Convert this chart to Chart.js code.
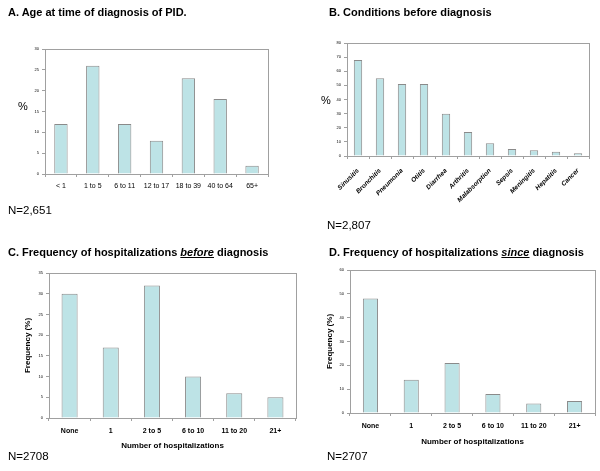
<!DOCTYPE html>
<html>
<head>
<meta charset="utf-8">
<script src="https://cdn.jsdelivr.net/npm/chart.js@4"></script>
<style>
  body { margin: 0; background: #fff; font-family: "Liberation Sans", Arial, sans-serif; }
  #page { position: relative; width: 600px; height: 471px; overflow: hidden; }
  canvas { position: absolute; }
  .txt { position: absolute; white-space: nowrap; color: #000; }
  .ttl { font-weight: bold; font-size: 11px; }
  .n { font-size: 11.5px; }
  .pct { font-size: 11px; }
</style>
</head>
<body>
<div id="page">
  <canvas id="chartA" width="300" height="235" style="left:0;top:0"></canvas>
  <canvas id="chartB" width="300" height="235" style="left:300px;top:0"></canvas>
  <canvas id="chartC" width="300" height="236" style="left:0;top:235px"></canvas>
  <canvas id="chartD" width="300" height="236" style="left:300px;top:235px"></canvas>

  <div class="txt ttl" style="left:8px;top:6px">A. Age at time of diagnosis of PID.</div>
  <div class="txt ttl" style="left:329px;top:6px">B. Conditions before diagnosis</div>
  <div class="txt ttl" style="left:8px;top:246px">C. Frequency of hospitalizations <u><i>before</i></u> diagnosis</div>
  <div class="txt ttl" style="left:329px;top:246px">D. Frequency of hospitalizations <u><i>since</i></u> diagnosis</div>

  <div class="txt pct" style="left:18px;top:100px">%</div>
  <div class="txt pct" style="left:321px;top:94px">%</div>

  <div class="txt n" style="left:8px;top:204px">N=2,651</div>
  <div class="txt n" style="left:327px;top:219px">N=2,807</div>
  <div class="txt n" style="left:8px;top:450px">N=2708</div>
  <div class="txt n" style="left:327px;top:450px">N=2707</div>
</div>
<script>
const ageLabels = ['< 1', '1 to 5', '6 to 11', '12 to 17', '18 to 39', '40 to 64', '65+'];
const ageValues = [12, 26, 12, 8, 23, 18, 2];

const condLabels = ['Sinusitis', 'Bronchitis', 'Pneumonia', 'Otitis', 'Diarrhea', 'Arthritis',
  'Malabsorption', 'Sepsis', 'Meningitis', 'Hepatitis', 'Cancer'];
const condValues = [68, 55, 51, 51, 30, 17, 9, 5, 4, 3, 2];

const hospLabels = ['None', '1', '2 to 5', '6 to 10', '11 to 20', '21+'];
const hospBefore = [30, 17, 32, 10, 6, 5];
const hospSince = [48, 14, 21, 8, 4, 5];

const barFill = '#bde3e6';
const barEdge = '#8a8a8a';
const axisGray = '#a0a0a0';
const FONT = '"Liberation Sans", Arial, sans-serif';

// box round the plot area, like the old excel charts
const frame = {
  id: 'frame',
  afterDraw(chart) {
    const a = chart.chartArea;
    const ctx = chart.ctx;
    ctx.save();
    ctx.strokeStyle = axisGray;
    ctx.lineWidth = 1;
    ctx.strokeRect(Math.round(a.left) + 0.5, Math.round(a.top) + 0.5,
      Math.round(a.right - a.left), Math.round(a.bottom - a.top));
    ctx.restore();
  }
};

function makeBar(id, labels, values, cfg) {
  new Chart(document.getElementById(id), {
    type: 'bar',
    data: {
      labels: labels,
      datasets: [{
        data: values,
        backgroundColor: barFill,
        borderColor: barEdge,
        borderWidth: 1,
        barPercentage: cfg.barPct,
        categoryPercentage: 1
      }]
    },
    options: {
      responsive: false,
      animation: false,
      events: [],
      layout: { padding: { left: 0, top: cfg.top, right: cfg.right, bottom: 0 } },
      plugins: { legend: { display: false }, tooltip: { enabled: false } },
      scales: {
        x: {
          afterFit: s => { s.height = cfg.xHeight; },
          grid: { offset: true, drawOnChartArea: false, drawTicks: true, tickLength: 3, color: axisGray },
          border: { color: axisGray },
          ticks: {
            color: '#000',
            padding: cfg.xPad,
            autoSkip: false,
            minRotation: cfg.rot || 0,
            maxRotation: cfg.rot || 0,
            font: { family: FONT, size: cfg.xSize || 7, weight: cfg.xBold ? 'bold' : 'normal', style: cfg.xItalic ? 'italic' : 'normal' }
          },
          title: cfg.xTitle ? {
            display: true, text: cfg.xTitle, color: '#000',
            font: { family: FONT, size: 8, weight: 'bold' },
            padding: { top: 0, bottom: cfg.xTitlePad }
          } : { display: false }
        },
        y: {
          min: 0, max: cfg.max,
          afterFit: s => { s.width = cfg.yWidth; },
          grid: { drawOnChartArea: false, drawTicks: true, tickLength: 3, color: axisGray },
          border: { color: axisGray },
          ticks: { stepSize: cfg.step, color: '#000', padding: 3, font: { family: FONT, size: 4 } },
          title: cfg.yTitle ? {
            display: true, text: cfg.yTitle, color: '#000',
            font: { family: FONT, size: 8, weight: 'bold' },
            padding: { top: cfg.yTitlePad, bottom: 0 }
          } : { display: false }
        }
      }
    },
    plugins: [frame]
  });
}

makeBar('chartA', ageLabels, ageValues, {
  barPct: 0.42, top: 49, right: 32, xHeight: 61, yWidth: 45, xPad: 5, max: 30, step: 5
});
makeBar('chartB', condLabels, condValues, {
  barPct: 0.38, top: 43, right: 11, xHeight: 79, yWidth: 47, xPad: 8, max: 80, step: 10,
  rot: 45, xBold: true, xItalic: true, xSize: 6.5
});
makeBar('chartC', hospLabels, hospBefore, {
  barPct: 0.39, top: 38, right: 4, xHeight: 53, yWidth: 49, xPad: 6, max: 35, step: 5,
  xBold: true, xTitle: 'Number of hospitalizations', xTitlePad: 20,
  yTitle: 'Frequency (%)', yTitlePad: 23
});
makeBar('chartD', hospLabels, hospSince, {
  barPct: 0.37, top: 35, right: 5, xHeight: 58, yWidth: 50, xPad: 6, max: 60, step: 10,
  xBold: true, xTitle: 'Number of hospitalizations', xTitlePad: 24,
  yTitle: 'Frequency (%)', yTitlePad: 25
});
</script>
</body>
</html>
